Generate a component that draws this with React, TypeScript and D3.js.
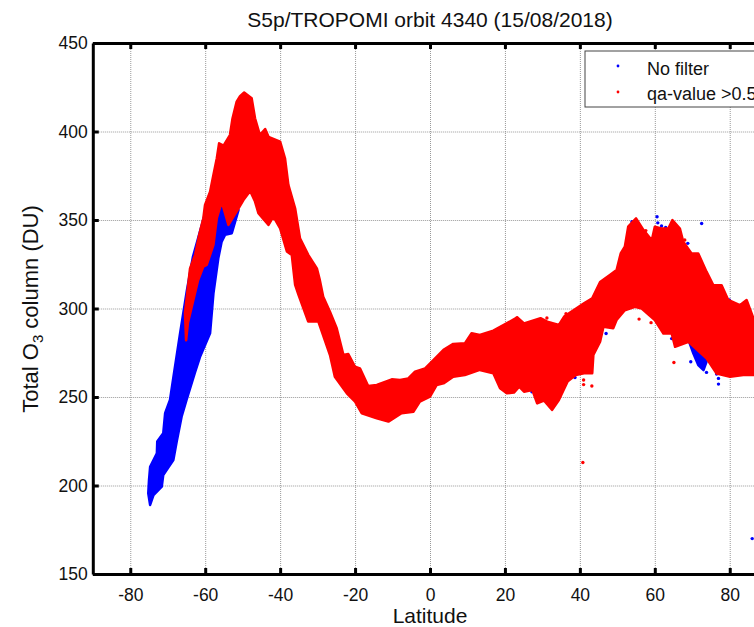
import React, { useEffect, useRef } from 'react';
import * as d3 from 'd3';

const latTicks = [-80, -60, -40, -20, 0, 20, 40, 60, 80];
const o3Ticks = [150, 200, 250, 300, 350, 400, 450];

// red band (qa-value > 0.5)
const redUpperLat = [-65.4, -64.8, -64.05, -62.7, -61.6, -60.5, -60.05, -58.7, -57.8, -56.9, -56.3, -55.1, -53.4, -52.7, -51.6, -50.7, -49.6, -47.6, -46.7, -45.4, -44, -43.1, -40, -38.7, -37.8, -36, -34.7, -32.5, -30.2, -29.4, -28.5, -26.7, -24.9, -23.1, -21.8, -20, -18.7, -16.5, -14.2, -10.2, -8, -5.8, -4, -1.3, 0.9, 3.6, 6.2, 9.3, 11.1, 13.3, 16.9, 19.7, 23.3, 25.1, 29.5, 31.3, 34.4, 35.8, 41.1, 43.3, 45.4, 48, 49.8, 50.9, 52, 52.9, 55, 57, 59.2, 60, 61.8, 63.6, 64.7, 66.7, 67.6, 69.8, 71.6, 73.8, 75.6, 77.8, 79.6, 82.7, 84.5, 86.5];
const redUpperO3 = [297.5, 308.6, 322.7, 330.3, 341.6, 351, 358.5, 366, 375.5, 384.9, 393.3, 392, 398, 407.5, 416.9, 420, 422, 418.8, 407.5, 398, 401.4, 397, 394.3, 384.9, 369.8, 356.6, 339.7, 330.3, 322.7, 316, 306.7, 298.2, 288.8, 273.7, 274.3, 267.1, 266.2, 256.2, 256.8, 260, 259.6, 260.5, 264.3, 266.2, 270.9, 276.6, 280, 280.3, 286, 285, 287.5, 290.7, 295, 291.6, 294.5, 292.6, 290.7, 295.4, 302.9, 305.8, 315, 318.9, 321.7, 331.1, 334.9, 346.2, 350.9, 344.3, 338.6, 346.2, 345.2, 345.2, 349.9, 345.2, 337.7, 331.1, 331.1, 320.8, 313.2, 313.2, 304.8, 301.9, 304.8, 293.5];
const redLowerLat = [-65.1, -64.6, -61.9, -60.5, -59.6, -57.8, -56.9, -55.6, -53.8, -51.1, -49.8, -48, -46.7, -45.8, -43.1, -41.8, -40, -38.2, -36.9, -36, -35.1, -32.5, -29.8, -26.7, -25.4, -22.2, -20, -18.2, -14.2, -11.1, -7.6, -4.4, -2.7, 0, 1.8, 3.6, 6.2, 9.3, 13.3, 16.9, 18.7, 20.5, 22.4, 23.8, 25.1, 27.3, 28.6, 30.4, 32.6, 34.4, 36.7, 38.9, 41.1, 43.3, 43.6, 45.4, 46.3, 48.9, 49.8, 52, 54.7, 56.5, 60, 62.3, 64.5, 65.4, 69, 73.8, 76.5, 80.1, 83.6, 86.5];
const redLowerO3 = [282, 292, 316, 323.7, 324.6, 335.9, 351, 360.4, 347.2, 356.6, 361.3, 366.4, 360.4, 353.8, 347.2, 351.9, 345.3, 332.2, 330.3, 313.3, 307.7, 292.6, 292.6, 273.7, 261.5, 252.1, 247.4, 240.8, 238, 236.1, 240.8, 241.7, 247.4, 250.2, 256.8, 257.7, 261.5, 262.4, 265.3, 263.4, 254.9, 252.1, 252.5, 255.9, 253, 254, 246.4, 248, 242.7, 248.3, 258.7, 262.4, 263.4, 263.4, 273.7, 281.2, 289.7, 288.8, 293.5, 299, 301, 300, 293.5, 285.9, 285.9, 278.4, 281.2, 271.8, 263.3, 261.4, 262.4, 262.4];

// blue band (no filter), only the part that shows from under the red
const blueUpperLat = [-75.2, -75, -74.7, -72.9, -72.8, -71.2, -70.7, -69.4, -68.6, -66.7, -64.9, -63.3, -60, -55.6];
const blueUpperO3 = [195.6, 203.1, 210.6, 218.2, 224.8, 229.5, 240.8, 248.3, 259.6, 286, 310, 329, 354, 359.4];
const blueLowerLat = [-74.7, -73.8, -71.6, -71.2, -68.5, -67.6, -66.3, -65, -62.7, -61.4, -58.7, -57.8, -56.5, -55.6, -54.7, -52.9, -51.1];
const blueLowerO3 = [189, 194.6, 199.3, 205.9, 214.4, 224.8, 238.9, 248.3, 264, 272.6, 286, 308.6, 328.4, 337.8, 341.6, 342.5, 355.7];

// blue wedge under the red band near 70N
const wedgeLat = [69, 70.3, 71.6, 73, 73.8, 73];
const wedgeO3 = [282.2, 274.6, 268, 265.2, 269.9, 276.5];

const blueDotLat = [60.6, 60.8, 61.8, 62.9, 72.5, 68.8, 47, 38.7, 79.9, 82.9, 27.2, 64.5, 53.9, 69.6, 73.8, 77, 77, 76.5, 86];
const blueDotO3 = [351.8, 348.4, 346.6, 345.8, 348, 336.8, 285.9, 261, 304.8, 301.9, 253, 283, 349, 269.9, 263.9, 260.5, 257.3, 263, 170];
const redDotLat = [40.8, 57.6, 68, 65.1, 55.8, 59, 41, 41, 43.2, 31.2, 36.3, 23.2];
const redDotO3 = [213, 344, 338.7, 269.5, 294, 292, 259.6, 257, 256.2, 294.6, 297, 294.6];

const legendLabels = ['No filter', 'qa-value >0.5'];
const legendColors = ['#0000ff', '#ff0000'];

const FONT = '"Liberation Sans", Arial, sans-serif';
const W = 754;
const H = 627;

export default function App() {
  const ref = useRef<SVGSVGElement>(null);

  useEffect(() => {
    const svg = d3.select(ref.current);
    svg.selectAll('*').remove();

    const x = d3.scaleLinear().domain([-90, 90]).range([92.8, 767.2]);
    const y = d3.scaleLinear().domain([150, 450]).range([574, 43]);

    // Grid lines
    const gridX = svg.append('g').attr('transform', `translate(0,${y(150)})`)
      .call(d3.axisBottom(x).tickValues(latTicks).tickSize(-(y(150) - y(450))).tickFormat(() => ''));
    const gridY = svg.append('g').attr('transform', `translate(${x(-90)},0)`)
      .call(d3.axisLeft(y).tickValues(o3Ticks).tickSize(-(x(90) - x(-90))).tickFormat(() => ''));
    [gridX, gridY].forEach(g => {
      g.select('.domain').remove();
      g.selectAll('line').attr('stroke', '#999').attr('stroke-width', 1).attr('stroke-dasharray', '1 1');
    });

    // Bands, closed outline built from upper and reversed lower edge
    const outline = (upLat: number[], upVal: number[], loLat: number[], loVal: number[]) => {
      const pts: [number, number][] = upLat.map((d, i) => [x(d), y(upVal[i])]);
      for (let i = loLat.length - 1; i >= 0; i--) pts.push([x(loLat[i]), y(loVal[i])]);
      return d3.line()(pts) + 'Z';
    };
    const band = (d: string, color: string) =>
      svg.append('path').attr('d', d).attr('fill', color).attr('stroke', color)
        .attr('stroke-width', 2.5).attr('stroke-linejoin', 'round');

    band(outline(blueUpperLat, blueUpperO3, blueLowerLat, blueLowerO3), legendColors[0]);
    band(outline(wedgeLat, wedgeO3, [], []), legendColors[0]);
    svg.append('g').selectAll('circle').data(blueDotLat).join('circle')
      .attr('cx', d => x(d)).attr('cy', (_, i) => y(blueDotO3[i])).attr('r', 1.7).attr('fill', legendColors[0]);

    band(outline(redUpperLat, redUpperO3, redLowerLat, redLowerO3), legendColors[1]);
    svg.append('g').selectAll('circle').data(redDotLat).join('circle')
      .attr('cx', d => x(d)).attr('cy', (_, i) => y(redDotO3[i])).attr('r', 1.7).attr('fill', legendColors[1]);

    // Axes
    const styleAxis = (g: any) => {
      g.select('.domain').attr('stroke', '#000').attr('stroke-width', 3);
      g.selectAll('line').attr('stroke', '#000').attr('stroke-width', 3);
      g.selectAll('text').attr('font-family', FONT).attr('font-size', 17.5).attr('fill', '#111');
    };
    svg.append('g').attr('transform', `translate(0,${y(150)})`)
      .call(d3.axisBottom(x).tickValues(latTicks).tickSizeInner(-6).tickSizeOuter(0).tickPadding(15).tickFormat(d => String(d)))
      .call(styleAxis);
    svg.append('g').attr('transform', `translate(0,${y(450)})`)
      .call(d3.axisTop(x).tickValues(latTicks).tickSizeInner(-6).tickSizeOuter(0).tickFormat(() => ''))
      .call(styleAxis);
    svg.append('g').attr('transform', `translate(${x(-90)},0)`)
      .call(d3.axisLeft(y).tickValues(o3Ticks).tickSizeInner(-6).tickSizeOuter(0).tickPadding(5))
      .call(styleAxis);

    // Legend
    const legend = svg.append('g');
    legend.append('rect').attr('x', 585).attr('y', 51).attr('width', 200).attr('height', 56)
      .attr('fill', '#fff').attr('stroke', '#444').attr('stroke-width', 1);
    legendLabels.forEach((label, i) => {
      legend.append('circle').attr('cx', 618).attr('cy', 66 + i * 26).attr('r', 1.4).attr('fill', legendColors[i]);
      legend.append('text').attr('x', 647).attr('y', 74.5 + i * 25.5)
        .attr('font-family', FONT).attr('font-size', 18).attr('fill', '#111').text(label);
    });

    // Titles
    svg.append('text').attr('x', 430).attr('y', 27).attr('text-anchor', 'middle')
      .attr('font-family', FONT).attr('font-size', 21).attr('fill', '#111')
      .text('S5p/TROPOMI orbit 4340 (15/08/2018)');
    svg.append('text').attr('x', 430).attr('y', 622.5).attr('text-anchor', 'middle')
      .attr('font-family', FONT).attr('font-size', 21).attr('fill', '#111').text('Latitude');
    const yLabel = svg.append('text').attr('transform', 'translate(38,309) rotate(-90)').attr('text-anchor', 'middle')
      .attr('font-family', FONT).attr('font-size', 22).attr('fill', '#111');
    yLabel.append('tspan').text('Total O');
    yLabel.append('tspan').attr('dy', 5).attr('font-size', 15).text('3');
    yLabel.append('tspan').attr('dy', -5).text(' column (DU)');
  }, []);

  return <svg ref={ref} width={W} height={H} style={{ position: 'absolute', left: 0, top: 0, background: '#fff' }} />;
}
